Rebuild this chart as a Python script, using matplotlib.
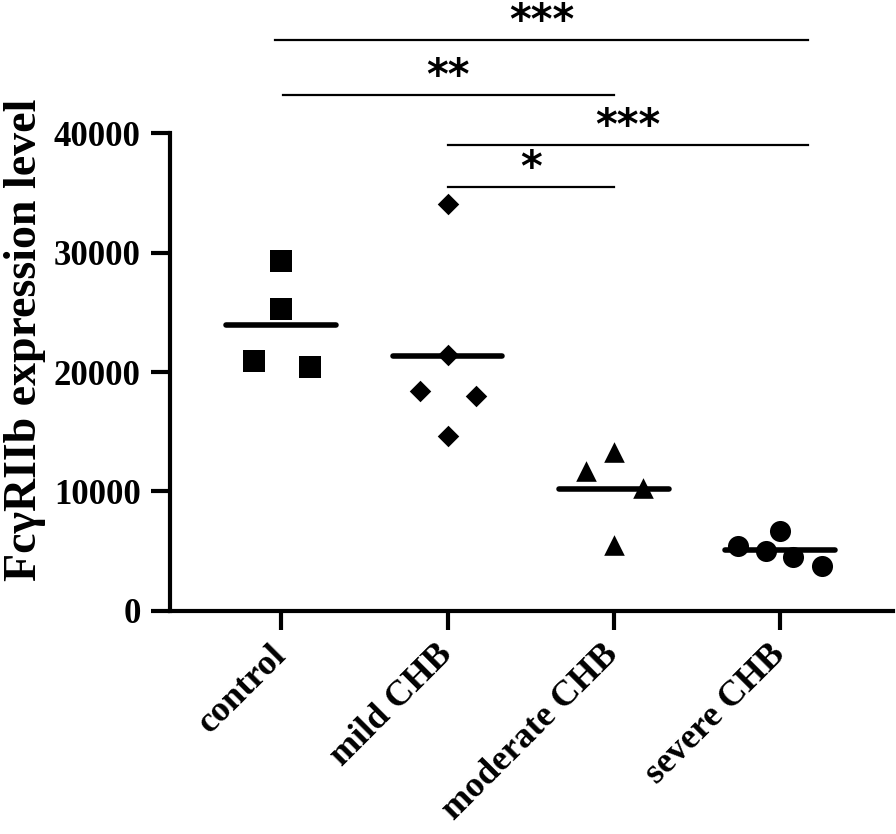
import numpy as np
import matplotlib
matplotlib.use('Agg')
import matplotlib.pyplot as plt

# 数据
groups = ['control', 'mild CHB', 'moderate CHB', 'severe CHB']
control = [29300, 25300, 20900, 20400]
control_dx = [0, 0, -0.165, 0.17]
mild = [34100, 21400, 18400, 18000, 14650]
mild_dx = [0, 0, -0.165, 0.17, 0]
moderate = [11700, 13300, 10300, 5560]
moderate_dx = [-0.165, 0, 0.175, 0]
severe = [5460, 5040, 6690, 4540, 3790]
severe_dx = [-0.25, -0.085, 0, 0.08, 0.25]

# 显著性标记: 起点, 终点, 高度, 文字
sig_start = [-0.04, 0.01, 1.0, 1.0]
sig_end = [3.17, 2.0, 3.17, 2.0]
sig_y = [47800, 43200, 39000, 35450]
sig_label = ['***', '**', '***', '*']

plt.rcParams['font.family'] = ['Liberation Serif', 'DejaVu Serif']
plt.rcParams['font.weight'] = 'bold'

fig = plt.figure(figsize=(8.96, 8.34), dpi=100)
ax = fig.add_axes([0.1897, 0.2674, 0.807, 0.5731])

series = [control, mild, moderate, severe]
offsets = [control_dx, mild_dx, moderate_dx, severe_dx]
markers = ['s', 'D', '^', 'o']
sizes = [230, 120, 220, 230]

for i, (vals, dx, m, s) in enumerate(zip(series, offsets, markers, sizes)):
    xs = i + np.array(dx)
    ax.scatter(xs, vals, marker=m, s=s, color='black', zorder=3, linewidths=0)
    mean = np.mean(vals)
    ax.plot([i - 0.33, i + 0.33], [mean, mean], color='black', lw=4,
            solid_capstyle='round', zorder=2)

for x1, x2, y, lab in zip(sig_start, sig_end, sig_y, sig_label):
    ax.plot([x1, x2], [y, y], color='black', lw=1.6, clip_on=False)
    ax.text((x1 + x2) / 2, y + 1500, lab, ha='center', va='center',
            fontsize=30, fontweight='bold', family='DejaVu Sans', clip_on=False)

ax.set_xlim(-0.67, 3.68)
ax.set_ylim(0, 40000)
ax.set_yticks([0, 10000, 20000, 30000, 40000])
ax.set_xticks(range(len(groups)))
ax.set_xticklabels(groups, rotation=45, ha='right', va='center',
                   rotation_mode='anchor', fontsize=26, fontweight='bold')
for lab in ax.get_yticklabels():
    lab.set_fontsize(25)
    lab.set_fontweight('bold')

for side in ['top', 'right']:
    ax.spines[side].set_visible(False)
for side in ['left', 'bottom']:
    ax.spines[side].set_linewidth(3)
ax.tick_params(axis='both', width=3, length=14, pad=7)
ax.tick_params(axis='x', pad=14)

ax.set_ylabel('Fc\u03b3RIIb expression level', fontsize=33, fontweight='bold', va='center')
ax.yaxis.set_label_coords(-0.200, 0.567)

fig.savefig('out.png', dpi=100)
